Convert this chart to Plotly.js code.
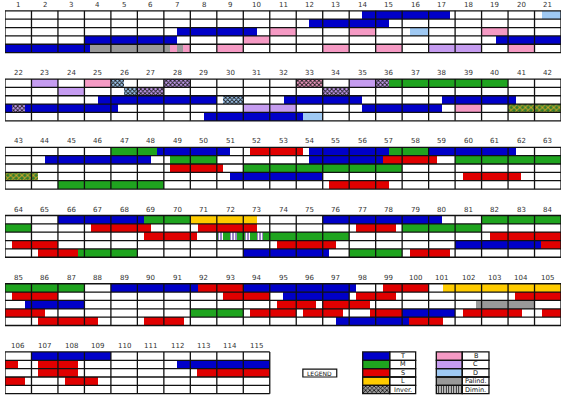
<!DOCTYPE html>
<html><head><meta charset="utf-8">
<script src="https://cdn.plot.ly/plotly-3.0.1.min.js"></script>
<style>html,body{margin:0;padding:0;background:#fff}#chart{width:567px;height:399px}</style>
</head><body><div id="chart"></div>
<script>
const TOTAL_MEASURES = 115;
const MEASURES_PER_ROW = 21;
const LANES = 5;

// Segments: [lane (1 = top), start, end] in absolute measure units (measure m spans m-1 .. m)
const T_SEGS = [
  [1,13.5,16.8],[2,11.5,14.5],[3,6.5,9.5],[4,3.0,6.5],[5,0,3.2],[4,18.55,25.25],
  [3,24.5,29.0],[3,31.55,34.5],[3,37.5,40.3],[4,34.5,37.5],[5,28.5,32.26],
  [1,47.75,50.5],[1,53.5,56.5],[1,58,61.3],[2,43.5,47.5],[2,53.5,56.28],[4,50.5,54],
  [1,65,68.25],[1,75,79.5],[4,80,83.25],[5,72,75.25],
  [1,88,91.3],[1,93,97.27],[2,94.5,97],[3,84.75,87],[4,99,101],[5,96.5,99.26],
  [1,106,109],[2,111.5,115]
];
const M_SEGS = [
  [1,35.5,40],[1,46,47.75],[1,56.5,58],[2,48.25,50],[2,59,64],[3,51,57],[5,44,48],
  [1,68.25,70],[1,81,87],[2,78,81],[3,71,76],[5,65.75,68],[5,76,78],[4,91,93]
];
const S_SEGS = [
  [1,51.25,53.25],[2,56.28,58.3],[3,48.25,50.25],[4,59.3,61.5],[5,54.25,56.5],
  [2,66.25,68.5],[2,70.3,72.5],[2,76.25,77.75],[3,68.25,70.25],[3,81.3,84],[4,63.25,65],
  [4,73.28,75.5],[4,83.25,85.5],[5,64.25,65.75],[5,78.28,79.8],
  [1,91.3,93],[1,98.28,100],[2,84.25,86],[2,92.25,94],[2,97.27,98.78],[2,103.28,105],
  [3,94.28,95.76],[3,96,97.77],[4,93.26,95],[4,95.26,96.77],[4,97.77,99],[4,101.3,103.53],
  [4,104.3,105.75],[5,85.25,87.5],[5,89.25,90.75],[5,99.26,100.54],
  [2,105,105.5],[2,106.25,107.75],[3,106.25,107.75],[3,112.25,115],[4,107.25,108.5]
];
const L_SEGS = [[1,70,72.5],[1,100.54,105]];
const B_SEGS = [
  [3,10,11],[3,13,14],[3,18,19],[4,9,10],[5,8,9],[5,12,13],[5,14,15],[5,19,20],
  [5,6.23,6.48],[5,6.73,7.0],[1,24,25],[4,38,39]
];
const C_SEGS = [[5,16,18],[1,22,23],[2,23,24],[4,30,32],[1,34,35]];
const D_SEGS = [[3,15.3,16],[1,20.3,21],[5,32.26,33]];
const PALIND_SEGS = [[5,3.2,6.23],[5,6.48,6.73],[3,101.8,104]];
// inverted passages: [lane, start, end, base category]
const INV_SEGS = [
  [1,25,25.5,'D'],[2,25.5,26,'D'],[3,29.25,30,'D'],
  [1,27,28,'C'],[2,26,27,'C'],[2,33,34,'C'],[1,35,35.5,'C'],[4,21.25,21.75,'C'],
  [1,32,33,'B']
];
const ML_INV_SEGS = [[4,40,43.25]];
const DIMIN_SEGS = [[3,71.05,71.25],[3,71.5,71.75],[3,72.05,72.25],[3,72.5,72.75]];

const LEGEND_LEFT = ['T','M','S','L','Inver.'];
const LEGEND_RIGHT = ['B','C','D','Palind.','Dimin.'];

const COLORS = {T:'#0000c8', M:'#1fa41f', S:'#e00000', L:'#ffcc00', B:'#f59ac4',
                C:'#c59cf0', D:'#9fc9f3', Palind:'#999999'};

// geometry (in axis units: x = measure columns, y = lanes)
const ROW_STEP = 8.17, ROW_TOP0 = 1.3;
const rowTop = r => ROW_TOP0 + r*ROW_STEP;
const nRows = Math.ceil(TOTAL_MEASURES / MEASURES_PER_ROW);

function split(segs){
  const out = {x:[], base:[], y:[], cat:[]};
  segs.forEach(s => {
    let [lane, a, b] = s;
    while (a < b - 1e-9){
      const row = Math.floor(a / MEASURES_PER_ROW + 1e-9);
      const e = Math.min(b, (row+1)*MEASURES_PER_ROW);
      out.base.push(a - row*MEASURES_PER_ROW);
      out.x.push(e - a);
      out.y.push(rowTop(row) + lane - 0.5);
      out.cat.push(s[3]);
      a = e;
    }
  });
  return out;
}

function barTrace(segs, color, pattern){
  const d = split(segs);
  const t = {type:'bar', orientation:'h', x:d.x, base:d.base, y:d.y,
    width:d.y.map(()=>1.0), marker:{color:color, line:{width:0}},
    hoverinfo:'skip', showlegend:false};
  if (pattern) t.marker.pattern = pattern;
  return t;
}

const traces = [
  barTrace(T_SEGS, COLORS.T), barTrace(M_SEGS, COLORS.M), barTrace(S_SEGS, COLORS.S),
  barTrace(L_SEGS, COLORS.L), barTrace(B_SEGS, COLORS.B), barTrace(C_SEGS, COLORS.C),
  barTrace(D_SEGS, COLORS.D), barTrace(PALIND_SEGS, COLORS.Palind)
];
['B','C','D'].forEach(k => {
  const segs = INV_SEGS.filter(s => s[3] === k);
  traces.push(barTrace(segs, COLORS[k], {shape:'x', fgcolor:'#1e1e1e', bgcolor:COLORS[k], size:3, solidity:0.5}));
});
traces.push(barTrace(ML_INV_SEGS, COLORS.M, {shape:'x', fgcolor:'#c9a227', bgcolor:'#2f7d2f', size:4, solidity:0.45}));
traces.push(barTrace(DIMIN_SEGS, '#8f78c0', {shape:'|', fgcolor:'#ffffff', bgcolor:'#8f78c0', size:3, solidity:0.4}));

// legend swatches (row 6 area)
const LEG_LX = [13.51, 14.53, 15.51], LEG_RX = [16.29, 17.27, 18.28];
const legTop = rowTop(nRows-1);
const legKeyLeft = ['T','M','S','L'];
const legKeyRight = ['B','C','D','Palind'];
function legSwatch(x0, x1, i, color, pattern){
  const t = {type:'bar', orientation:'h', x:[x1-x0], base:[x0], y:[legTop + i + 0.5],
    width:[1.0], marker:{color:color, line:{width:0}}, hoverinfo:'skip', showlegend:false};
  if (pattern) t.marker.pattern = pattern;
  return t;
}
legKeyLeft.forEach((k,i) => traces.push(legSwatch(LEG_LX[0], LEG_LX[1], i, COLORS[k])));
traces.push(legSwatch(LEG_LX[0], LEG_LX[1], 4, '#777', {shape:'x', fgcolor:'#111', bgcolor:'#9a9a9a', size:3, solidity:0.45}));
legKeyRight.forEach((k,i) => traces.push(legSwatch(LEG_RX[0], LEG_RX[1], i, COLORS[k])));
traces.push(legSwatch(LEG_RX[0], LEG_RX[1], 4, '#fff', {shape:'|', fgcolor:'#111', bgcolor:'#ffffff', size:2.5, solidity:0.5}));

// grid shapes & measure numbers
const shapes = [], annotations = [];
const LW = 1.3;
for (let r = 0; r < nRows; r++){
  const first = r*MEASURES_PER_ROW + 1;
  const n = Math.min(MEASURES_PER_ROW, TOTAL_MEASURES - first + 1);
  const top = rowTop(r);
  for (let l = 0; l <= LANES; l++)
    shapes.push({type:'line', xref:'x', yref:'y', x0:0, x1:n, y0:top+l, y1:top+l, line:{color:'#111', width:LW}, layer:'above'});
  for (let c = 0; c <= n; c++)
    shapes.push({type:'line', xref:'x', yref:'y', x0:c, x1:c, y0:top, y1:top+LANES, line:{color:'#111', width:LW}, layer:'above'});
  for (let c = 0; c < n; c++)
    annotations.push({x:c+0.5, y:top-0.72, xref:'x', yref:'y', text:String(first+c), showarrow:false,
      font:{family:'DejaVu Sans', size:7, color:'#333'}});
}
// legend tables
function legTable(xs, labels){
  for (let i = 0; i < labels.length; i++){
    for (let j = 0; j < 2; j++)
      shapes.push({type:'rect', xref:'x', yref:'y', x0:xs[j], x1:xs[j+1], y0:legTop+i, y1:legTop+i+1,
        line:{color:'#111', width:LW}, layer:'above'});
    annotations.push({x:(xs[1]+xs[2])/2, y:legTop+i+0.5, xref:'x', yref:'y', text:labels[i], showarrow:false,
      font:{family:'DejaVu Sans', size:6.5, color:'#111'}});
  }
}
legTable(LEG_LX, LEGEND_LEFT);
legTable(LEG_RX, LEGEND_RIGHT);
shapes.push({type:'rect', xref:'x', yref:'y', x0:11.25, x1:12.53, y0:legTop+2.05, y1:legTop+3.0,
  line:{color:'#111', width:1.2}, layer:'above'});
annotations.push({x:11.89, y:legTop+2.53, xref:'x', yref:'y', text:'LEGEND', showarrow:false,
  font:{family:'DejaVu Sans', size:6, color:'#111'}});

const layout = {
  width:567, height:399, margin:{l:5, r:5.5, t:0, b:0},
  paper_bgcolor:'#fff', plot_bgcolor:'#fff', barmode:'overlay', bargap:0,
  xaxis:{range:[0,21], visible:false, fixedrange:true},
  yaxis:{range:[399/8.35, 0], visible:false, fixedrange:true},
  shapes:shapes, annotations:annotations, showlegend:false
};
Plotly.newPlot('chart', traces, layout, {staticPlot:true, displayModeBar:false});
</script></body></html>
